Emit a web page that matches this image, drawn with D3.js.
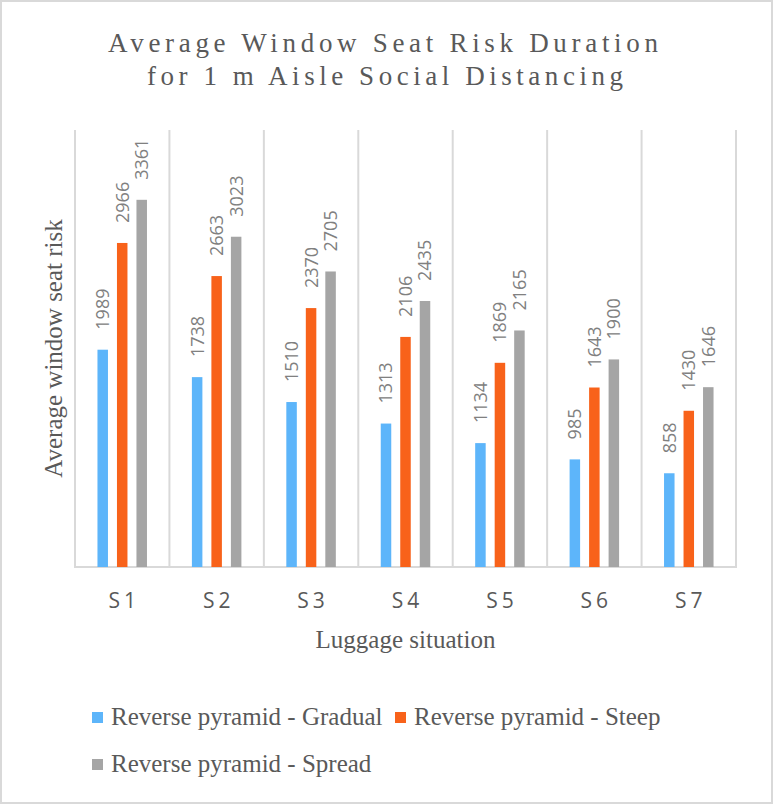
<!DOCTYPE html>
<html>
<head>
<meta charset="utf-8">
<script src="https://cdn.jsdelivr.net/npm/d3@7"></script>
<style>
  html, body { margin: 0; padding: 0; background: #fff; }
  svg { display: block; }
</style>
</head>
<body>
<script>
const categories = ["S1", "S2", "S3", "S4", "S5", "S6", "S7"];
const seriesNames = ["Reverse pyramid - Gradual", "Reverse pyramid - Steep", "Reverse pyramid - Spread"];
const gradual = [1989, 1738, 1510, 1313, 1134, 985, 858];
const steep = [2966, 2663, 2370, 2106, 1869, 1643, 1430];
const spread = [3361, 3023, 2705, 2435, 2165, 1900, 1646];
const colors = ["#5DB5FA", "#F8621A", "#A5A5A5"];
const titleLines = ["Average Window Seat Risk Duration", "for 1 m Aisle Social Distancing"];
const yTitle = "Average window seat risk";
const xTitle = "Luggage situation";
const yMax = 4000;

const W = 773, H = 804;
const plot = { left: 75, right: 736, top: 130, bottom: 567 };

const svg = d3.select("body").append("svg").attr("width", W).attr("height", H);

svg.append("rect").attr("x", 1).attr("y", 1).attr("width", W - 2).attr("height", H - 2)
  .attr("fill", "#fff").attr("stroke", "#d9d9d9").attr("stroke-width", 2);

// Title
const titleX = [108, 147], titleW = [550, 476], titleY = [52, 85];
titleLines.forEach((t, i) => {
  svg.append("text").attr("x", titleX[i]).attr("y", titleY[i])
    .attr("font-family", "'Liberation Serif', 'Times New Roman', serif")
    .attr("font-size", 27).attr("fill", "#595959")
    .attr("textLength", titleW[i]).attr("lengthAdjust", "spacing")
    .text(t);
});

const x = d3.scaleBand().domain(categories).range([plot.left, plot.right]).padding(0);
const y = d3.scaleLinear().domain([0, yMax]).range([plot.bottom, plot.top]);
const offsets = d3.scalePoint().domain(seriesNames).range([-19.5, 19.5]);
const barW = 10.5;

// Vertical gridlines at category boundaries
const bounds = categories.map(c => x(c)).concat([x(categories[categories.length - 1]) + x.bandwidth()]);
svg.append("g").selectAll("line").data(bounds).join("line")
  .attr("x1", d => d).attr("x2", d => d)
  .attr("y1", y(yMax)).attr("y2", y(0))
  .attr("stroke", "#d9d9d9").attr("stroke-width", 2);

// x axis
const xAxis = svg.append("g").attr("transform", `translate(0,${y(0)})`)
  .call(d3.axisBottom(x).tickSize(0).tickPadding(0).tickFormat(d => d));
xAxis.select(".domain").attr("stroke", "#d9d9d9").attr("stroke-width", 2)
  .attr("d", `M${plot.left - 1},0H${plot.right + 1}`);
xAxis.selectAll(".tick text")
  .attr("y", 41).attr("dy", 0).attr("dx", 2)
  .attr("font-family", "'Open Sans', sans-serif").attr("font-size", 21)
  .attr("letter-spacing", "4px").attr("fill", "#595959");

const series = [gradual, steep, spread];
series.forEach((vals, si) => {
  const g = svg.append("g");
  const name = seriesNames[si];
  g.selectAll("rect").data(vals).join("rect")
    .attr("x", (d, i) => x(categories[i]) + x.bandwidth() / 2 + offsets(name) - barW / 2)
    .attr("width", barW)
    .attr("y", d => y(d)).attr("height", d => y(0) - y(d))
    .attr("fill", colors[si]);
  g.selectAll("text").data(vals).join("text")
    .attr("transform", (d, i) => {
      const cx = x(categories[i]) + x.bandwidth() / 2 + offsets(name);
      return `translate(${cx},${y(d) - 20}) rotate(-90)`;
    })
    .attr("dy", "0.36em")
    .attr("font-family", "'Open Sans', sans-serif").attr("font-size", 18)
    .attr("fill", "#808080")
    .text(d => d);
});

// Axis titles
svg.append("text")
  .attr("transform", `translate(62,${(plot.top + plot.bottom) / 2}) rotate(-90)`)
  .attr("text-anchor", "middle")
  .attr("font-family", "'Liberation Serif', 'Times New Roman', serif")
  .attr("font-size", 25).attr("fill", "#595959")
  .text(yTitle);

svg.append("text")
  .attr("x", (plot.left + plot.right) / 2).attr("y", 648)
  .attr("text-anchor", "middle")
  .attr("font-family", "'Liberation Serif', 'Times New Roman', serif")
  .attr("font-size", 25).attr("fill", "#595959")
  .text(xTitle);

// Legend
const legendPos = [{ x: 92, y: 725 }, { x: 395, y: 725 }, { x: 92, y: 772 }];
seriesNames.forEach((n, i) => {
  const p = legendPos[i];
  svg.append("rect").attr("x", p.x).attr("y", p.y - 13).attr("width", 11).attr("height", 11)
    .attr("fill", colors[i]);
  svg.append("text").attr("x", p.x + 19).attr("y", p.y)
    .attr("font-family", "'Liberation Serif', 'Times New Roman', serif")
    .attr("font-size", 25).attr("fill", "#595959")
    .text(n);
});
</script>
</body>
</html>
